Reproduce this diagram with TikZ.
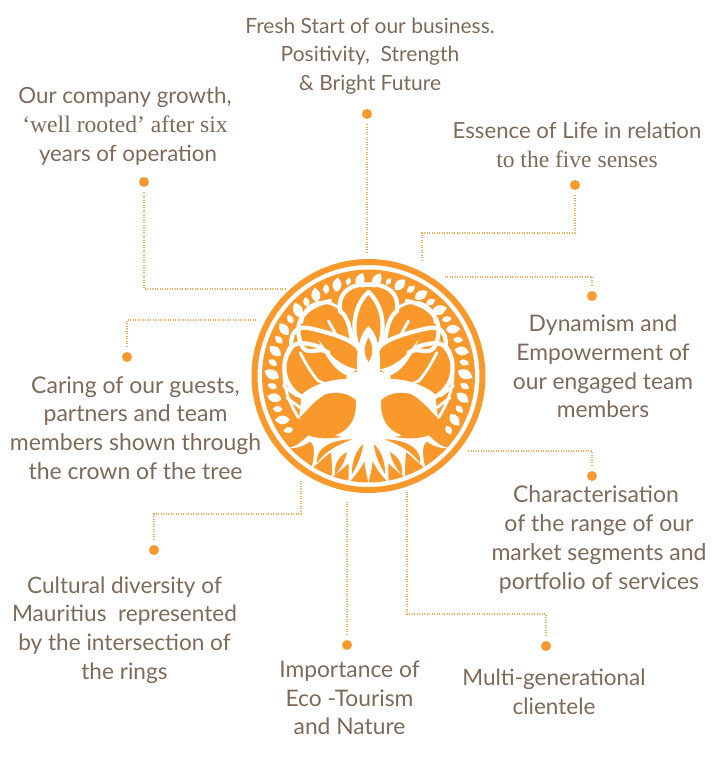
\documentclass[tikz,border=0pt]{standalone}
\usepackage{fontspec}
\setmainfont{Lato}
\newfontfamily\serifpart[Scale=1.06]{Liberation Serif}
\definecolor{ringorange}{HTML}{F9992B}
\definecolor{labelbrown}{HTML}{7D6A58}
\tikzstyle{label} = [text=labelbrown,align=center,inner sep=0pt]
\tikzstyle{dot} = [circle,fill=ringorange,minimum size=10pt,inner sep=0pt]
\tikzstyle{lead} = [draw=ringorange!85,line width=1.1pt,dash pattern=on 1.2pt off 1.3pt,shorten <=5pt]
\tikzstyle{branch} = [draw=white,line width=4.2pt,line cap=round]
\tikzstyle{twig} = [draw=white,line width=2.8pt,line cap=round]
\newcommand{\halftree}{
  %trunk
  \fill[white] (-1,-150) .. controls (25,-130) and (33,-85) .. (35,-45)
    -- (35,-13) -- (65,-5) -- (70,35) -- (45,40) -- (38,72)
    .. controls (36,100) and (40,130) .. (60,152)
    .. controls (70,165) and (85,172) .. (100,178) -- (-1,200) -- cycle;
  %limbs
  \fill[white] (35,-20) .. controls (85,-30) and (120,-65) .. (150,-110)
    .. controls (130,-55) and (95,-10) .. (60,0) -- cycle;
  \fill[white] (50,10) .. controls (105,5) and (165,25) .. (200,55)
    -- (208,125) .. controls (190,110) and (165,75) .. (130,55)
    .. controls (100,45) and (60,50) .. (38,72) -- cycle;
  %branches
  \draw[branch] (195,65) .. controls (250,40) and (270,-30) .. (235,-85)
    .. controls (215,-105) and (180,-100) .. (140,-85);
  \draw[branch] (120,-70) .. controls (150,-90) and (175,-60) .. (197,-85)
    .. controls (225,-140) and (215,-205) .. (115,-225);
  \draw[branch] (30,-85) .. controls (60,-115) and (120,-130) .. (175,-143)
    .. controls (205,-150) and (235,-140) .. (232,-90);
  \draw[branch] (50,-105) .. controls (55,-140) and (60,-175) .. (85,-195)
    .. controls (95,-250) and (50,-285) .. (-20,-272);
  \draw[branch] (30,-80) .. controls (55,-150) and (40,-215) .. (0,-252);
  \draw[twig] (90,-205) .. controls (130,-235) and (195,-225) .. (200,-160);
  \draw[twig] (215,-100) .. controls (270,-50) and (265,40) .. (210,125);
  \draw[twig] (205,95) -- (245,65);
  \draw[twig] (215,60) -- (255,30);
  \draw[twig] (115,30) -- (150,15) .. controls (170,-5) and (190,-40) .. (205,-70);
  \draw[twig] (95,-120) -- (120,-165);
  %roots
  \fill[white] (-1,170) -- (40,172) .. controls (90,190) and (150,192) .. (180,178)
    .. controls (195,190) and (210,210) .. (240,216)
    .. controls (205,218) and (190,205) .. (175,197)
    .. controls (160,205) and (160,240) .. (172,278)
    .. controls (150,262) and (130,240) .. (112,228)
    .. controls (112,255) and (105,285) .. (112,305)
    .. controls (90,290) and (75,275) .. (60,262)
    .. controls (60,280) and (58,300) .. (62,322)
    .. controls (40,300) and (25,280) .. (12,255)
    .. controls (10,280) and (5,300) .. (-1,322) -- cycle;
  \fill[ringorange] (48,190) .. controls (90,190) and (160,205) .. (155,262)
    .. controls (130,225) and (90,205) .. (48,190) -- cycle;
  \fill[ringorange] (65,228) .. controls (85,240) and (105,260) .. (100,298)
    .. controls (85,275) and (70,260) .. (65,228) -- cycle;
  \fill[ringorange] (16,205) .. controls (40,225) and (50,260) .. (50,295)
    .. controls (35,270) and (20,240) .. (16,205) -- cycle;
}
\begin{document}
\begin{tikzpicture}[x=1pt,y=-1pt]
  \useasboundingbox (0,0) rectangle (714,764);
  %emblem
  \node[circle,draw=ringorange,line width=6pt,minimum size=228pt,inner sep=0pt] (ring) at (368.5,376) {};
  \node[circle,fill=ringorange,minimum size=213pt,inner sep=0pt] (disc) at (368.5,376) {};
  \begin{scope}[shift={(368.5,376)},x=0.3333pt,y=-0.3333pt]
    \halftree
    \begin{scope}[xscale=-1]
      \halftree
    \end{scope}
    \fill[ringorange] (0,-115) .. controls (12,-95) and (18,-70) .. (0,-42) .. controls (-18,-70) and (-12,-95) .. (0,-115) -- cycle;
    %leaves
    \foreach \ang/\len in {34/15,27/22,20/15,13/22,6/15,-1/24,-8/15,-15/22,-22/15,-29/22,-36/15,-43/24,-50/15,-57/22,-64/15,-71/22,-78/12,-85/22,-95/22,-102/12,-109/22,-116/15,-123/22,-130/15,-137/24,-144/15,-151/22,-158/15,-165/22,-172/15,-179/24,-186/15,-193/22,-200/15,-207/22,-214/15}
    {
      \fill[white,shift={(\ang:290)},rotate=-\ang-25] (-\len,0) .. controls (-\len*0.3,-\len*0.95) and (\len*0.4,-\len*0.7) .. (\len,0)
        .. controls (\len*0.4,\len*0.7) and (-\len*0.3,\len*0.95) .. (-\len,0) -- cycle;
    };
  \end{scope}
  %labels and their dots
  \foreach \nodename/\x/\y/\fsize/\dotx/\doty/\content in {
    fresh/370/56/21/367/114/{Fresh Start of our business.\\Positivity,\ \ Strength\\\& Bright Future},
    growth/125/126/22.3/144/182/{Our company growth,\\{\serifpart ‘well rooted’ after six}\\\hspace*{6pt}years of operation},
    essence/577/145/22.2/575/185/{Essence of Life in relation\\{\serifpart to the five senses}},
    dynamism/603/366.5/22.8/592/296/{Dynamism and\\Empowerment of\\our engaged team\\members},
    caring/135.5/428/23/127/357/{Caring of our guests,\\partners and team\\members shown through\\the crown of the tree},
    character/599/539.5/23/592/476/{Characterisation\hspace*{6pt}\\of the range of our\\market segments and\\portfolio of services},
    cultural/124.5/630/22.6/154/550/{Cultural diversity of\\Mauritius\ \ represented\\by the intersection of\\the rings},
    importance/349.5/698/22.8/347/645/{Importance of\\Eco -Tourism\\and Nature},
    multi/554/692/22.5/546/646/{Multi-generational\\clientele}}
  {
    \node[label,font=\fontsize{\fsize}{28.7}\selectfont] (\nodename) at (\x,\y) {\content};
    \node[dot] (\nodename-dot) at (\dotx,\doty) {};
  };
  %free ends of the leads
  \foreach \nodename/\x/\y in {
    freshend/367/253, essenceA/575/233, essenceB/422/233, essenceend/422/261,
    dynamismA/592/277, dynamismend/445/277, growthA/144/289, growthend/285/289,
    caringA/127/320, caringend/256/320, characterA/592/451, characterend/468/451,
    importanceend/347/502, culturalA/154/514, culturalB/301/514, culturalend/301/481,
    multiA/546/614, multiB/407/614, multiend/407/492}
  {
    \coordinate (\nodename) at (\x,\y);
  };
  %leads
  \path[lead] (fresh-dot) -- (freshend);
  \path[lead] (essence-dot) -- (essenceA) -- (essenceB) -- (essenceend);
  \path[lead] (dynamism-dot) -- (dynamismA) -- (dynamismend);
  \path[lead] (growth-dot) -- (growthA) -- (growthend);
  \path[lead] (caring-dot) -- (caringA) -- (caringend);
  \path[lead] (character-dot) -- (characterA) -- (characterend);
  \path[lead] (importance-dot) -- (importanceend);
  \path[lead] (cultural-dot) -- (culturalA) -- (culturalB) -- (culturalend);
  \path[lead] (multi-dot) -- (multiA) -- (multiB) -- (multiend);
\end{tikzpicture}
\end{document}
